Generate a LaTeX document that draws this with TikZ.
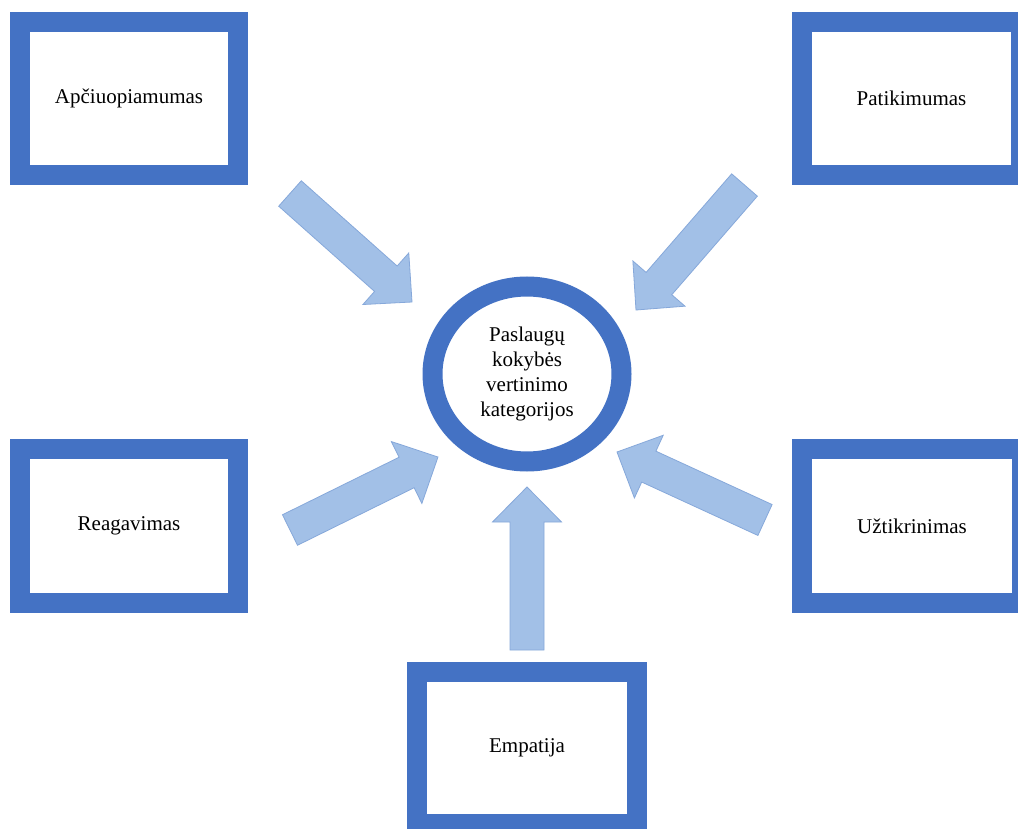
\documentclass[tikz,border=0pt]{standalone}
\usepackage{fontspec}
\setmainfont{Liberation Serif}
\usetikzlibrary{calc,shapes.geometric}
\definecolor{boxblue}{HTML}{4472C4}
\definecolor{arrowfill}{HTML}{A2C0E7}
\definecolor{arrowedge}{HTML}{86A8DA}
\tikzset{
  catbox/.style={draw=boxblue, line width=20pt, fill=white, inner sep=0pt,
    minimum width=218pt, minimum height=153pt, font=\fontsize{21}{25}\selectfont},
  hubring/.style={ellipse, draw=boxblue, line width=20pt, fill=white, inner sep=0pt,
    minimum width=189pt, minimum height=175pt, align=center, font=\fontsize{21}{25}\selectfont},
  blockarrowstyle/.style={fill=arrowfill, draw=arrowedge, line width=0.8pt, line join=miter}
}
\newcommand\blockarrow[2]{%
  \path[blockarrowstyle] let \p1=($(#2)-(#1)$), \n1={atan2(\y1,\x1)}, \n2={veclen(\x1,\y1)} in
    [shift={(#1)}, rotate=\n1]
    (0pt,-17pt) -- (\n2-35pt,-17pt) -- (\n2-35pt,-34.5pt) -- (\n2,0pt)
    -- (\n2-35pt,34.5pt) -- (\n2-35pt,17pt) -- (0pt,17pt) -- cycle;}
\begin{document}
\begin{tikzpicture}[x=1pt,y=-1pt]
\useasboundingbox (0,0) rectangle (1018,829);
\clip (0,0) rectangle (1018,829);
\fill[white] (0,0) rectangle (1018,829);
% boxes
\node[catbox] (apc) at (129,98.5) {Apčiuopiamumas};
\node[catbox, minimum width=219pt] (pat) at (911.5,98.5) {Patikimumas};
\node[catbox, minimum height=154pt] (rea) at (129,526) {Reagavimas};
\node[catbox, minimum width=220pt, minimum height=154pt] (uzt) at (912,526) {Užtikrinimas};
\node[catbox, minimum width=220pt, minimum height=152pt] (emp) at (527,748) {Empatija};
% hub
\node[hubring] (hub) at (527,374) {Paslaugų\\kokybės\\vertinimo\\kategorijos};
% arrow anchors
\coordinate (a1s) at (290,193.5); \coordinate (a1e) at (412,302);
\coordinate (a2s) at (744.5,185); \coordinate (a2e) at (636,310);
\coordinate (a3s) at (290,530);   \coordinate (a3e) at (438,457);
\coordinate (a4s) at (527,650);   \coordinate (a4e) at (527,487);
\coordinate (a5s) at (765,520);   \coordinate (a5e) at (617,452);
\blockarrow{a1s}{a1e}
\blockarrow{a2s}{a2e}
\blockarrow{a3s}{a3e}
\blockarrow{a4s}{a4e}
\blockarrow{a5s}{a5e}
\end{tikzpicture}
\end{document}
